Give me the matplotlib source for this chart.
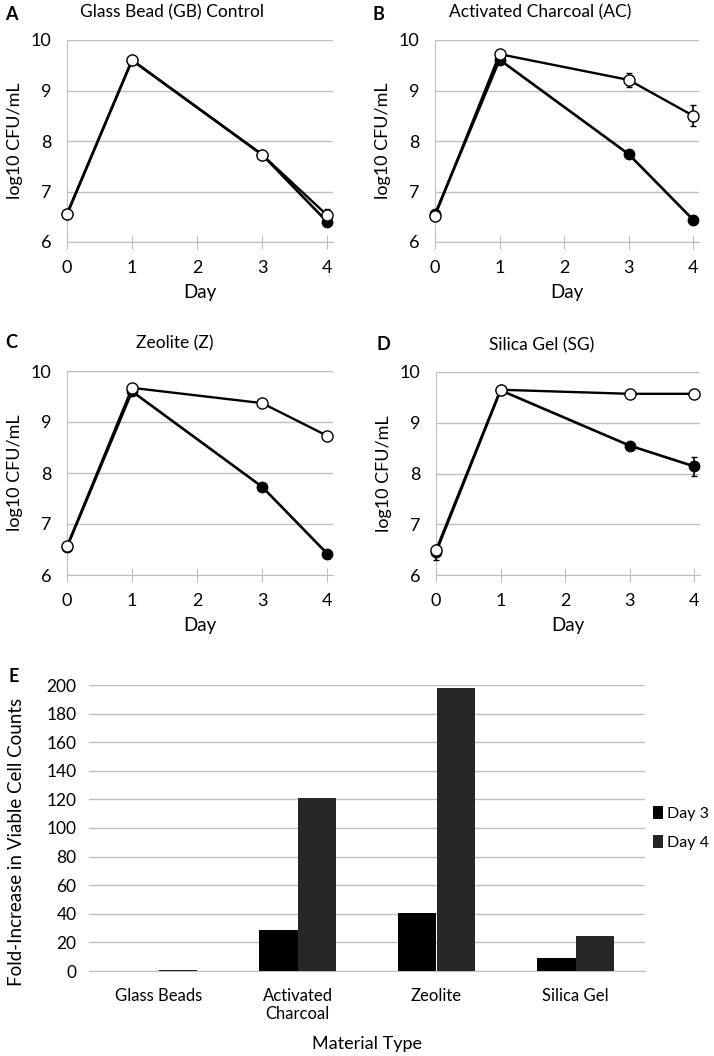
import matplotlib
matplotlib.use("Agg")
import matplotlib.pyplot as plt

plt.rcParams["font.family"] = ["Lato", "DejaVu Sans"]

days = [0, 1, 3, 4]

# panel A-D: filled circles and open circles, with error bars
gb_filled = [6.55, 9.60, 7.73, 6.40]
gb_filled_err = [0.03, 0.03, 0.03, 0.06]
gb_open = [6.56, 9.60, 7.73, 6.53]
gb_open_err = [0.03, 0.03, 0.03, 0.13]

ac_filled = [6.55, 9.61, 7.74, 6.44]
ac_filled_err = [0.03, 0.03, 0.05, 0.07]
ac_open = [6.52, 9.72, 9.21, 8.50]
ac_open_err = [0.03, 0.08, 0.14, 0.21]

z_filled = [6.55, 9.60, 7.73, 6.42]
z_filled_err = [0.03, 0.03, 0.05, 0.08]
z_open = [6.56, 9.67, 9.37, 8.73]
z_open_err = [0.03, 0.03, 0.03, 0.03]

sg_filled = [6.45, 9.64, 8.55, 8.14]
sg_filled_err = [0.15, 0.05, 0.07, 0.18]
sg_open = [6.49, 9.65, 9.57, 9.57]
sg_open_err = [0.03, 0.08, 0.03, 0.03]

panel_titles = ["Glass Bead (GB) Control", "Activated Charcoal (AC)",
                "Zeolite (Z)", "Silica Gel (SG)"]
panel_letters = ["A", "B", "C", "D"]

# panel E
materials = ["Glass Beads", "Activated\nCharcoal", "Zeolite", "Silica Gel"]
fold_day3 = [0.0, 28.5, 40.8, 9.1]
fold_day4 = [0.8, 121.0, 197.7, 24.3]

W, H = 714, 1056
fig = plt.figure(figsize=(W / 100, H / 100), dpi=100)
fig.patch.set_facecolor("white")

grid_color = "#BFBFBF"


def px_axes(x0, y0, x1, y1):
    return fig.add_axes([x0 / W, 1 - y1 / H, (x1 - x0) / W, (y1 - y0) / H])


def line_panel(ax, filled, filled_err, opened, opened_err):
    ax.set_xlim(0, 4.09)
    ax.set_ylim(6, 10)
    ax.set_yticks([6, 7, 8, 9, 10])
    ax.set_xticks([0, 1, 2, 3, 4])
    ax.grid(axis="y", color=grid_color, linewidth=1.0)
    ax.set_axisbelow(True)
    for side in ("top", "right"):
        ax.spines[side].set_visible(False)
    ax.spines["left"].set_color(grid_color)
    ax.spines["bottom"].set_color(grid_color)
    ax.tick_params(axis="y", length=0, pad=11, labelsize=13)
    ax.tick_params(axis="x", direction="inout", length=10, color=grid_color,
                   pad=8, labelsize=13)
    ax.errorbar(days, filled, yerr=filled_err, color="black", linewidth=1.9,
                marker="o", markersize=7.5, markerfacecolor="black",
                markeredgecolor="black", capsize=2.5, elinewidth=1.2,
                clip_on=False, zorder=3)
    ax.errorbar(days, opened, yerr=opened_err, color="black", linewidth=1.7,
                marker="o", markersize=8, markerfacecolor="white",
                markeredgecolor="black", markeredgewidth=1.0, capsize=2.5,
                elinewidth=1.2, clip_on=False, zorder=4)
    ax.set_xlabel("Day", fontsize=13.5, labelpad=6)
    ax.set_ylabel("log10 CFU/mL", fontsize=13)
    ax.yaxis.set_label_coords(-0.166, 0.5)


boxes = [(67, 40, 333, 242), (435, 40, 699, 242),
         (67, 371, 333, 575), (436, 372, 700, 575)]
series = [(gb_filled, gb_filled_err, gb_open, gb_open_err),
          (ac_filled, ac_filled_err, ac_open, ac_open_err),
          (z_filled, z_filled_err, z_open, z_open_err),
          (sg_filled, sg_filled_err, sg_open, sg_open_err)]
title_pos = [(172, 12), (540, 12), (175, 343), (542, 345)]
letter_pos = [(5, 14), (372, 15), (5, 342), (377, 345)]

for box, data, title, tpos, letter, lpos in zip(boxes, series, panel_titles,
                                                 title_pos, panel_letters,
                                                 letter_pos):
    ax = px_axes(*box)
    line_panel(ax, *data)
    fig.text(tpos[0] / W, 1 - tpos[1] / H, title, fontsize=12.5,
             ha="center", va="center")
    fig.text(lpos[0] / W, 1 - lpos[1] / H, letter, fontsize=13,
             fontweight="bold", ha="left", va="center")

# bar chart E
axe = px_axes(89, 685, 645, 971)
positions = list(range(len(materials)))
bar_w = 0.28
axe.bar([p - bar_w / 2 for p in positions], fold_day3, width=bar_w,
        color="#000000", label="Day 3", zorder=3)
axe.bar([p + bar_w / 2 for p in positions], fold_day4, width=bar_w,
        color="#262626", label="Day 4", zorder=3)
axe.set_xlim(-0.5, 3.5)
axe.set_ylim(0, 200)
axe.set_yticks(range(0, 201, 20))
axe.set_xticks(positions)
axe.set_xticklabels(materials)
axe.grid(axis="y", color=grid_color, linewidth=1.0)
axe.set_axisbelow(True)
for side in ("top", "right", "left"):
    axe.spines[side].set_visible(False)
axe.spines["bottom"].set_color(grid_color)
axe.tick_params(axis="y", length=0, pad=9, labelsize=12.5)
axe.tick_params(axis="x", length=0, pad=12, labelsize=12)
axe.set_xlabel("Material Type", fontsize=13, labelpad=10)
axe.set_ylabel("Fold-Increase in Viable Cell Counts", fontsize=13.5)
axe.yaxis.set_label_coords(-0.115, 0.45)
axe.legend(loc="center left", bbox_to_anchor=(1.015, 0.5), frameon=False,
           fontsize=11.5, handlelength=0.6, handleheight=0.9,
           handletextpad=0.25, borderaxespad=0.0, borderpad=0.0,
           labelspacing=0.85)
fig.text(8 / W, 1 - 677 / H, "E", fontsize=13, fontweight="bold",
         ha="left", va="center")

fig.savefig("out.png", dpi=100)
